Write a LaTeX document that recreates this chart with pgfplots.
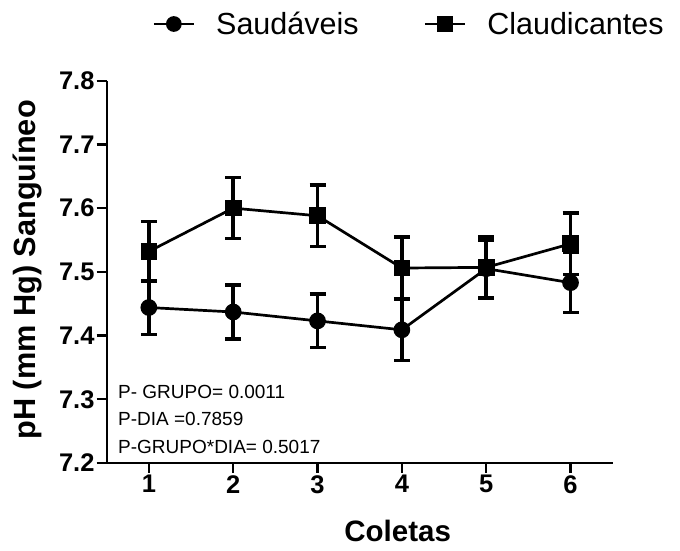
\documentclass[border=0pt]{standalone}
\usepackage{pgfplots}
\pgfplotsset{compat=1.18}
\usepackage{pgfplotstable}
\usepackage{fontspec}
\setmainfont{Liberation Sans}

\pgfplotstableread{
x y e
1 7.444 0.042
2 7.437 0.042
3 7.423 0.042
4 7.409 0.048
5 7.505 0.045
6 7.483 0.047
}\saud
\pgfplotstableread{
x y e
1 7.532 0.047
2 7.600 0.048
3 7.588 0.048
4 7.506 0.049
5 7.507 0.048
6 7.544 0.048
}\claud

\begin{document}
\begin{tikzpicture}
\begin{axis}[
  scale only axis, width=506bp, height=382.3bp,
  xmin=0.5, xmax=6.5, ymin=7.2, ymax=7.8,
  axis x line*=bottom, axis y line*=left,
  axis line style={line width=2.2bp, -},
  xtick={1,2,3,4,5,6},
  ytick={7.2,7.3,7.4,7.5,7.6,7.7,7.8},
  yticklabel style={/pgf/number format/fixed, /pgf/number format/precision=1, /pgf/number format/fixed zerofill},
  /pgf/number format/assume math mode=true,
  tick style={line width=2.2bp, black},
  major tick length=10bp,
  tick align=outside,
  ticklabel style={font=\fontsize{25.5bp}{29bp}\selectfont\bfseries},
  xticklabel style={inner sep=2bp},
  yticklabel style={inner sep=2bp},
  xlabel={Coletas},
  ylabel={pH (mm Hg) Sanguíneo},
  xlabel style={font=\fontsize{29.5bp}{33bp}\selectfont\bfseries, at={(axis description cs:0.575,-0.206)}, anchor=base},
  ylabel style={font=\fontsize{30.7bp}{34bp}\selectfont\bfseries, at={(axis description cs:-0.1417,0.505)}, anchor=base},
  clip=false,
  legend columns=2,
  legend style={at={(axis description cs:0.0905,1.1483)}, anchor=west, draw=none, fill=none,
    font=\fontsize{30.5bp}{34bp}\selectfont,
    nodes={inner sep=0pt},
    /tikz/every odd column/.append style={column sep=21bp},
    /tikz/every even column/.append style={column sep=65bp},
    inner sep=0pt, outer sep=0pt},
  every axis plot/.append style={line width=2.7bp, black},
  error bars/y dir=both, error bars/y explicit,
  error bars/error bar style={line width=3.5bp, black},
  error bars/error mark options={rotate=90, mark size=8bp, line width=3.5bp, black},
]
\coordinate (sw) at (rel axis cs:0,0);
\coordinate (ne) at (rel axis cs:1,1);
\addplot[mark=*, mark size=7bp, mark options={solid, fill=black}, legend image code/.code={\draw[line width=2.7bp] (0bp,0bp) -- (40bp,0bp); \fill (20bp,0bp) circle (6.5bp);}]
  table[x=x, y=y, y error=e] {\saud};
\addlegendentry{Saudáveis}
\addplot[mark=square*, mark size=7bp, mark options={solid, fill=black}, legend image code/.code={\draw[line width=2.7bp] (0bp,0bp) -- (40bp,0bp); \fill (13.5bp,-6.5bp) rectangle (26.5bp,6.5bp);}]
  table[x=x, y=y, y error=e] {\claud};
\addlegendentry{Claudicantes}
\node[anchor=base west, font=\fontsize{19bp}{22bp}\selectfont, inner sep=0pt] at (axis cs:0.634,7.3005) {P- GRUPO= 0.0011};
\node[anchor=base west, font=\fontsize{19bp}{22bp}\selectfont, inner sep=0pt] at (axis cs:0.634,7.2584) {P-DIA =0.7859};
\node[anchor=base west, font=\fontsize{19bp}{22bp}\selectfont, inner sep=0pt] at (axis cs:0.634,7.2152) {P-GRUPO*DIA= 0.5017};
\end{axis}
\pgfresetboundingbox
\path[use as bounding box] ([shift={(-106.7bp,-88bp)}]sw) rectangle ([shift={(67.3bp,80.7bp)}]ne);
\end{tikzpicture}
\end{document}
